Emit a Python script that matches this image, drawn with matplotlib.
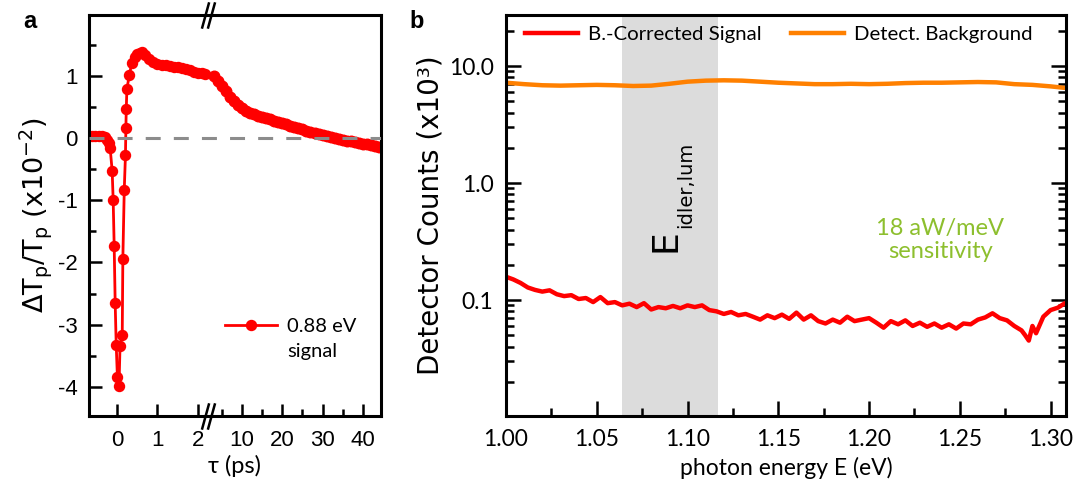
import numpy as np
import matplotlib
matplotlib.use('Agg')
import matplotlib.pyplot as plt
from matplotlib.path import Path
from matplotlib.lines import Line2D
from matplotlib.ticker import LogLocator, NullFormatter
from matplotlib.transforms import blended_transform_factory

plt.rcParams['font.family'] = ['Lato', 'DejaVu Sans']
plt.rcParams['axes.unicode_minus'] = False
plt.rcParams['mathtext.default'] = 'regular'

# ---- panel a: pump-probe transient, short delays (ps) ----
t_short = [-0.70, -0.62, -0.54, -0.46, -0.38, -0.30, -0.25, -0.21, -0.175, -0.125,
           -0.10, -0.075, -0.05, -0.025, 0.005, 0.045, 0.07, 0.125, 0.14, 0.175,
           0.205, 0.215, 0.225, 0.24, 0.30, 0.36, 0.43, 0.50, 0.56, 0.62,
           0.70, 0.80, 0.90, 1.00, 1.10, 1.20, 1.30, 1.40, 1.50, 1.60,
           1.70, 1.80, 1.90, 2.00, 2.10, 2.17]
dt_short = [0.04, 0.04, 0.04, 0.035, 0.03, 0.01, -0.03, -0.08, -0.16, -0.53,
            -1.00, -1.74, -2.66, -3.32, -3.85, -3.98, -3.35, -3.16, -1.94, -0.83,
            -0.27, 0.16, 0.47, 0.79, 1.01, 1.20, 1.30, 1.36, 1.37, 1.38,
            1.34, 1.27, 1.22, 1.19, 1.18, 1.18, 1.16, 1.15, 1.14, 1.12,
            1.11, 1.09, 1.07, 1.05, 1.04, 1.03]

# long delays (ps), after the axis break
t_long = [3, 4, 5, 6, 7, 8, 9, 10, 11, 12, 13, 14, 15, 16, 17, 18, 19, 20, 21, 22,
          23, 24, 25, 26, 27, 28, 29, 30, 31, 32, 33, 34, 35, 36, 37, 38, 39, 40,
          41, 42, 43, 44]
dt_long = [1.00, 0.92, 0.84, 0.75, 0.66, 0.60, 0.53, 0.48, 0.44, 0.41, 0.38, 0.36,
           0.34, 0.32, 0.30, 0.28, 0.26, 0.24, 0.22, 0.20, 0.18, 0.16, 0.14, 0.12,
           0.10, 0.08, 0.07, 0.05, 0.04, 0.02, 0.00, -0.01, -0.03, -0.04, -0.05,
           -0.06, -0.08, -0.09, -0.10, -0.11, -0.13, -0.15]

a_yticks = [-4, -3, -2, -1, 0, 1]
a_ylabels = ['-4', '-3', '-2', '-1', '0', '1']
a_xticks = [0, 1, 2, 10, 20, 30, 40]
a_xlabels = ['0', '1', '2', '10', '20', '30', '40']

# ---- panel b: spectra ----
E_sig = [1.000, 1.004, 1.008, 1.012, 1.016, 1.020, 1.024, 1.028, 1.032, 1.036,
         1.040, 1.044, 1.048, 1.052, 1.056, 1.060, 1.064, 1.068, 1.072, 1.076,
         1.080, 1.084, 1.088, 1.092, 1.096, 1.100, 1.104, 1.108, 1.112, 1.116,
         1.120, 1.124, 1.128, 1.132, 1.136, 1.140, 1.144, 1.148, 1.152, 1.156,
         1.160, 1.164, 1.168, 1.172, 1.176, 1.180, 1.184, 1.188, 1.192, 1.196,
         1.200, 1.204, 1.208, 1.212, 1.216, 1.220, 1.224, 1.228, 1.232, 1.236,
         1.240, 1.244, 1.248, 1.252, 1.256, 1.260, 1.264, 1.268, 1.272, 1.276,
         1.280, 1.284, 1.286, 1.288, 1.290, 1.292, 1.296, 1.300, 1.304, 1.308]
sig = [0.158, 0.150, 0.140, 0.128, 0.122, 0.118, 0.121, 0.112, 0.108, 0.110,
       0.102, 0.104, 0.096, 0.106, 0.094, 0.096, 0.090, 0.093, 0.087, 0.094,
       0.083, 0.087, 0.085, 0.089, 0.085, 0.090, 0.087, 0.090, 0.082, 0.080,
       0.076, 0.079, 0.074, 0.076, 0.072, 0.068, 0.074, 0.070, 0.075, 0.069,
       0.078, 0.068, 0.074, 0.066, 0.063, 0.068, 0.064, 0.072, 0.066, 0.068,
       0.070, 0.064, 0.058, 0.066, 0.062, 0.067, 0.060, 0.064, 0.059, 0.063,
       0.058, 0.062, 0.057, 0.063, 0.062, 0.068, 0.071, 0.077, 0.070, 0.067,
       0.060, 0.055, 0.050, 0.045, 0.060, 0.052, 0.072, 0.082, 0.086, 0.094]

E_bg = [1.00, 1.01, 1.02, 1.03, 1.04, 1.05, 1.06, 1.07, 1.08, 1.09, 1.10, 1.11,
        1.12, 1.13, 1.14, 1.15, 1.16, 1.17, 1.18, 1.19, 1.20, 1.21, 1.22, 1.23,
        1.24, 1.25, 1.26, 1.27, 1.28, 1.29, 1.30, 1.308]
bg = [7.2, 7.0, 6.85, 6.8, 6.85, 6.9, 6.85, 6.75, 6.8, 7.05, 7.35, 7.5,
      7.55, 7.5, 7.35, 7.2, 7.1, 7.0, 7.0, 7.05, 7.0, 7.05, 7.15, 7.2,
      7.2, 7.25, 7.3, 7.25, 7.0, 6.9, 6.7, 6.5]

band = (1.0637, 1.117)
b_xticks = [1.00, 1.05, 1.10, 1.15, 1.20, 1.25, 1.30]
b_xlabels = ['1.00', '1.05', '1.10', '1.15', '1.20', '1.25', '1.30']
b_yticks = [0.1, 1, 10]
b_ylabels = ['0.1', '1.0', '10.0']

RED = '#ff0000'
ORANGE = '#ff8000'
GREEN = '#8dbf2e'

# broken time axis: linear up to BRK, compressed 10x afterwards
BRK, RSTART, K = 2.25, 1.53, 0.1


def fwd(x):
    x = np.asarray(x, dtype=float)
    return np.where(x <= BRK, x, BRK + K * (x - RSTART))


def inv(u):
    u = np.asarray(u, dtype=float)
    return np.where(u <= BRK, u, RSTART + (u - BRK) / K)


fig = plt.figure(figsize=(10.76, 4.98), dpi=100)
ax1 = fig.add_axes([89 / 1076, 82 / 498, 292 / 1076, 401 / 498])
ax2 = fig.add_axes([506 / 1076, 82 / 498, 560 / 1076, 401 / 498])

for ax in (ax1, ax2):
    for s in ax.spines.values():
        s.set_linewidth(2.2)

# ---- panel a ----
ax1.set_xscale('function', functions=(fwd, inv))
ax1.plot(t_short, dt_short, '-o', color=RED, lw=2.0, ms=7.2, zorder=2)
ax1.plot(t_long, dt_long, '-o', color=RED, lw=2.0, ms=7.6, zorder=2)
ax1.axhline(0, color='#8c8c8c', lw=2.2, dashes=(4.9, 4.3), zorder=3)
ax1.set_xlim(-0.7, 44.5)
ax1.set_ylim(-4.47, 1.98)
ax1.set_xticks(a_xticks, a_xlabels, family='Liberation Sans', fontsize=16)
ax1.set_xticks([5, 15, 25, 35], minor=True)
ax1.set_yticks(a_yticks, a_ylabels, family='Liberation Sans', fontsize=16)
ax1.set_yticks([-3.5, -2.5, -1.5, -0.5, 0.5, 1.5], minor=True)
ax1.tick_params(which='both', direction='in', width=1.8)
ax1.tick_params(which='major', length=9)
ax1.tick_params(which='minor', length=5)
ax1.tick_params(axis='y', pad=8)
ax1.tick_params(axis='x', pad=10)

# break marks on top and bottom spine
brk = Path([(-0.5, -1), (0.05, 1), (-0.05, -1), (0.5, 1)],
           [Path.MOVETO, Path.LINETO, Path.MOVETO, Path.LINETO])
tr = blended_transform_factory(ax1.transData, ax1.transAxes)
ax1.plot([BRK, BRK], [0, 1], ls='none', marker=brk, ms=19, mew=1.8,
         mec='black', mfc='none', transform=tr, clip_on=False, zorder=5)

ax1.set_ylabel(r'$\Delta$T$_p$/T$_p$ (x10$^{-2}$)', family='DejaVu Sans',
               fontsize=19.5, labelpad=3)
ax1.set_xlabel('τ (ps)', fontsize=17, labelpad=3)

leg_h = [Line2D([], [], color=RED, marker='o', lw=2.0, ms=7.2),
         Line2D([], [], ls='none')]
ax1.legend(leg_h, ['0.88 eV', 'signal'], loc='upper left',
           bbox_to_anchor=((225 - 89) / 292, (416 - 318) / 400),
           frameon=False, borderpad=0, borderaxespad=0, handlelength=2.6,
           handletextpad=0.5, labelspacing=0.4, fontsize=14.5)

# ---- panel b ----
ax2.set_yscale('log')
ax2.axvspan(band[0], band[1], color='#dcdcdc', lw=0, zorder=0)
ax2.plot(E_sig, sig, color=RED, lw=3.2, label='B.-Corrected Signal', zorder=2)
ax2.plot(E_bg, bg, color=ORANGE, lw=3.2, label='Detect. Background', zorder=2)
ax2.set_xlim(1.0, 1.3085)
ax2.set_ylim(0.0102, 27.3)
ax2.set_xticks(b_xticks, b_xlabels, fontsize=16.5)
ax2.set_xticks([1.025, 1.075, 1.125, 1.175, 1.225, 1.275], minor=True)
ax2.set_yticks(b_yticks, b_ylabels, fontsize=16.5)
ax2.yaxis.set_minor_locator(LogLocator(base=10, subs=np.arange(2, 10)))
ax2.yaxis.set_minor_formatter(NullFormatter())
ax2.tick_params(which='both', direction='in', width=1.8, right=True)
ax2.tick_params(which='major', length=11)
ax2.tick_params(which='minor', length=6)
ax2.tick_params(axis='y', pad=9)
ax2.tick_params(axis='x', pad=9)
ax2.set_ylabel('Detector Counts (x10³)', family='DejaVu Sans', fontsize=20,
               labelpad=3)
ax2.set_xlabel('photon energy E (eV)', fontsize=16.5, labelpad=5)

ax2.legend(loc='upper left', bbox_to_anchor=((525 - 506) / 560, (416 - 26) / 401),
           ncol=2, frameon=False, borderpad=0, borderaxespad=0,
           handlelength=2.6, handletextpad=0.5, columnspacing=1.4,
           fontsize=14.7)

ax2.text(1.2393, 0.326, '18 aW/meV\nsensitivity', color=GREEN, fontsize=17,
         ha='center', va='center', linespacing=1.1)
ax2.text(1.0877, 0.32, 'E', family='DejaVu Sans', fontsize=26, rotation=90,
         ha='center', va='center')
ax2.annotate('idler,lum', xy=(1.0877, 0.32), xytext=(15, 40),
             textcoords='offset points', family='DejaVu Sans', fontsize=14,
             rotation=90, ha='center', va='center')

fig.text(30 / 1076, 1 - 22 / 498, 'a', family='Liberation Sans',
         weight='bold', fontsize=17, ha='center', va='center')
fig.text(417 / 1076, 1 - 22 / 498, 'b', family='Liberation Sans',
         weight='bold', fontsize=17, ha='center', va='center')

fig.savefig('out.png', dpi=100)
